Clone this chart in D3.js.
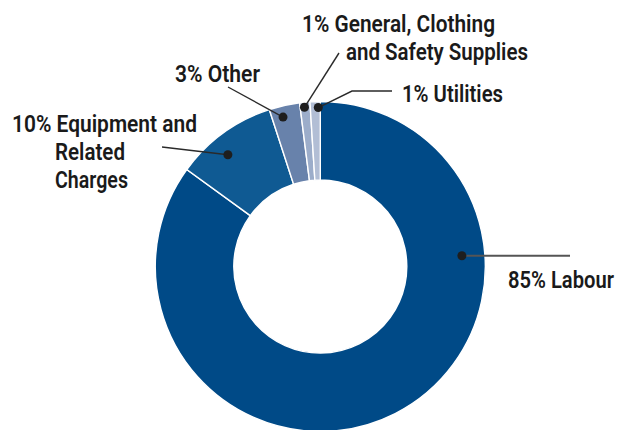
<!DOCTYPE html>
<html>
<head>
<meta charset="utf-8">
<script src="https://cdn.jsdelivr.net/npm/d3@7"></script>
<style>
  html, body { margin: 0; padding: 0; background: #fff; }
  svg { display: block; }
  .lbl { font-family: Roboto, "Noto Sans", sans-serif; font-weight: 600; font-size: 23.5px; fill: #1a1a1a; }
</style>
</head>
<body>
<svg id="chart" width="620" height="430"></svg>
<script>
// Operating cost breakdown (share of total, %)
const categories = ["Labour", "Equipment and Related Charges", "Other", "General, Clothing and Safety Supplies", "Utilities"];
const shares = [85, 10, 3, 1, 1];
const labelLines = [
  ["85% Labour"],
  ["10% Equipment and", "Related", "Charges"],
  ["3% Other"],
  ["1% General, Clothing", "and Safety Supplies"],
  ["1% Utilities"]
];
const colors = ["#004a87", "#0f5a93", "#6882ab", "#9cadca", "#b2bed5"];

// Callout layout: dot position inside each slice, leader route, text anchor [x, baseline, width]
const callouts = [
  { frac: 0.28, r: 142, path: [[570, null]], text: [[508, 288, 106]] },
  { frac: 0.40, r: 145, path: [[162, 147]], text: [[12, 132, 185], [55, 160, 70], [55, 188, 73]] },
  { frac: 0.37, r: 154, path: [[228, 87]], text: [[175, 82, 85]] },
  { frac: 0.42, r: 160, path: [[339, 53]], text: [[302, 32, 193], [346, 60, 182]] },
  { frac: 0.80, r: 159, path: [[352, 91], [392, 91]], text: [[402, 102, 101]] }
];

const svg = d3.select("#chart");
const cx = 320.3, cy = 266.5, outerR = 165, innerR = 86.5;

const pie = d3.pie().sort(null).value(d => d)(shares);
const arc = d3.arc().innerRadius(innerR).outerRadius(outerR);

const g = svg.append("g").attr("transform", `translate(${cx},${cy})`);

g.selectAll("path.slice")
  .data(pie)
  .join("path")
  .attr("class", "slice")
  .attr("d", arc)
  .attr("fill", (d, i) => colors[i])
  .attr("stroke", "#fff")
  .attr("stroke-width", 1.4);

// Callouts: dot + leader + text
pie.forEach((d, i) => {
  const c = callouts[i];
  const a = d.startAngle + (d.endAngle - d.startAngle) * c.frac;
  const px = cx + c.r * Math.sin(a);
  const py = cy - c.r * Math.cos(a);
  const pts = [[px, py]].concat(c.path.map(p => [p[0], p[1] === null ? py : p[1]]));
  svg.append("path")
    .attr("d", d3.line()(pts))
    .attr("fill", "none")
    .attr("stroke", i === 0 ? "#555" : "#2a2a2a")
    .attr("stroke-width", i === 0 ? 2 : 1.4);
  svg.append("circle")
    .attr("cx", px).attr("cy", py).attr("r", 4.5)
    .attr("fill", "#1e1e1e");
  labelLines[i].forEach((line, j) => {
    const [tx, ty, tw] = c.text[j];
    svg.append("text")
      .attr("class", "lbl")
      .attr("x", tx)
      .attr("y", ty)
      .attr("textLength", tw)
      .attr("lengthAdjust", "spacingAndGlyphs")
      .text(line);
  });
});
</script>
</body>
</html>
